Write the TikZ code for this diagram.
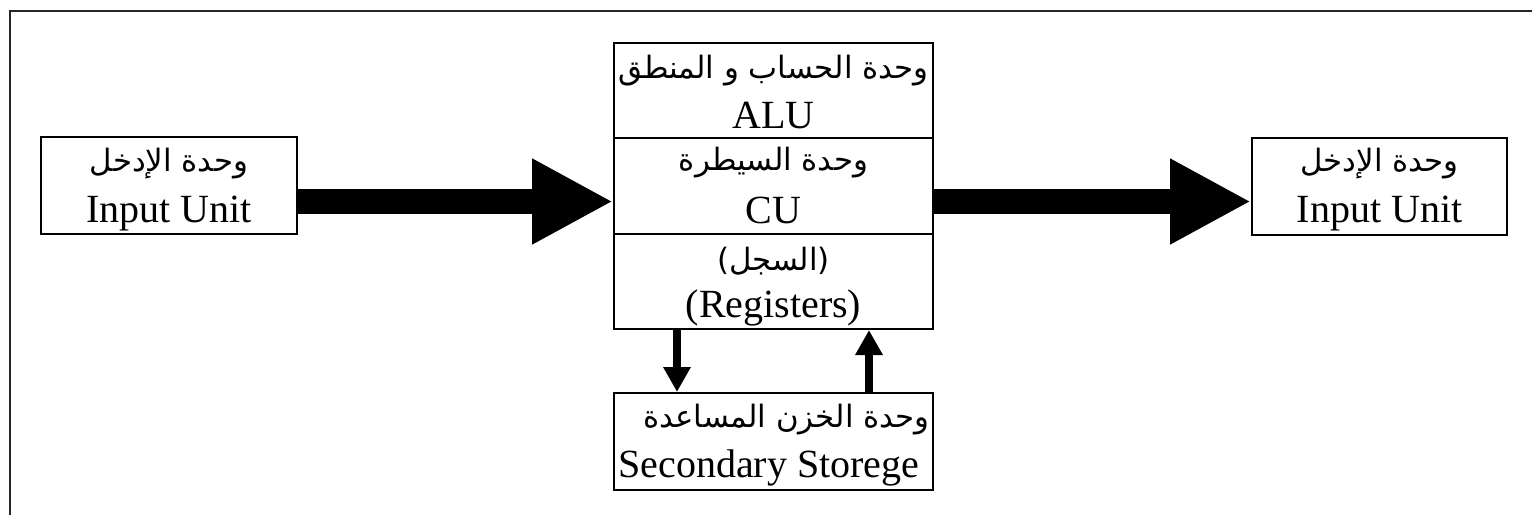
\documentclass[tikz,border=0pt]{standalone}
\usepackage{fontspec}
\setmainfont{Liberation Serif}
\newfontfamily\arabicfont[Script=Arabic]{DejaVu Sans}
\TeXXeTstate=1
\usetikzlibrary{arrows.meta}
\tikzset{
  unitbox/.style={draw, line width=1pt, inner sep=0pt},
  entxt/.style={anchor=base, inner sep=0pt, font=\fontsize{20}{24}\selectfont},
  artxt/.style={anchor=base, inner sep=0pt, font=\arabicfont\fontsize{15.4}{18}\selectfont},
  bigflow/.style={line width=12.5pt, -{Triangle[width=40pt,length=40.5pt]}},
  smallflow/.style={line width=4pt, -{Triangle[width=13pt,length=12.5pt]}},
}
\begin{document}
\begin{tikzpicture}[x=0.5pt,y=-0.5pt]
\useasboundingbox (0,0) rectangle (1532,515);
% outer frame (runs off the page on the right and bottom)
\draw[line width=1.3pt, black!85] (10,515) -- (10,11) -- (1532,11);

% unit boxes
\node[unitbox, minimum width=128pt, minimum height=48.5pt] (inbox) at (169,185.5) {};
\node[unitbox, minimum width=127.5pt, minimum height=48.5pt] (outbox) at (1379.5,186.5) {};
\node[unitbox, minimum width=159.5pt, minimum height=47.5pt] (alu) at (773.5,90.5) {};
\node[unitbox, minimum width=159.5pt, minimum height=48pt] (cu) at (773.5,186) {};
\node[unitbox, minimum width=159.5pt, minimum height=47.5pt] (reg) at (773.5,281.5) {};
\node[unitbox, minimum width=159.5pt, minimum height=48.5pt] (sto) at (773.5,441.5) {};

% labels
\node[artxt] (inar) at (169,171) {\beginR وحدة الإدخل\endR};
\node[entxt] (inen) at (169,222) {Input Unit};
\node[artxt] (outar) at (1379.5,171) {\beginR وحدة الإدخل\endR};
\node[entxt] (outen) at (1379.5,222) {Input Unit};
\node[artxt] (aluar) at (773.5,78) {\beginR وحدة الحساب و المنطق\endR};
\node[entxt] (aluen) at (773.5,128) {ALU};
\node[artxt] (cuar) at (773.5,170) {\beginR وحدة السيطرة\endR};
\node[entxt] (cuen) at (773.5,223) {CU};
\node[artxt] (regar) at (773.5,270) {\beginR (السجل)\endR};
\node[entxt] (regen) at (773.5,317) {(Registers)};
\node[artxt, anchor=base east] (stoar) at (930,427) {\beginR وحدة الخزن المساعدة\endR};
\node[entxt, anchor=base west] (stoen) at (618,477) {Secondary Storege};

% data flow
\coordinate (flowy) at (0,201.5);
\draw[bigflow] (inbox.east |- flowy) -- (cu.west |- flowy);
\draw[bigflow] (cu.east |- flowy) -- (outbox.west |- flowy);
\draw[smallflow] ([xshift=32pt]reg.south west) -- ([xshift=32pt]sto.north west);
\draw[smallflow] ([xshift=-32.5pt]sto.north east) -- ([xshift=-32.5pt]reg.south east);
\end{tikzpicture}
\end{document}
